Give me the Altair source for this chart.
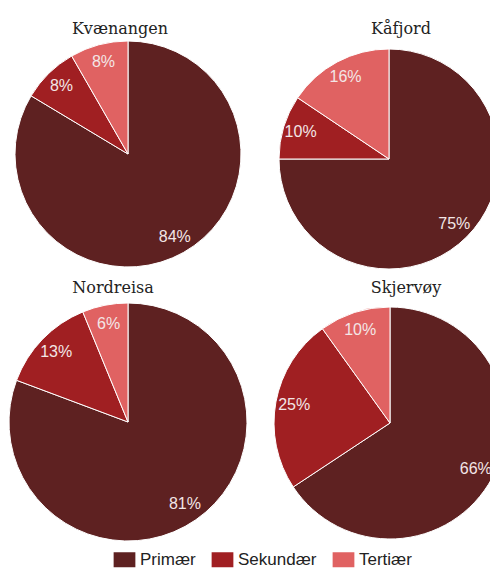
import altair as alt
import pandas as pd

municipalities = ["Kvænangen", "Kåfjord", "Nordreisa", "Skjervøy"]
sectors = ["Primær", "Sekundær", "Tertiær"]
values_kvaenangen = [83.6, 8.1, 8.3]
values_kafjord = [75.0, 9.4, 15.6]
values_nordreisa = [80.7, 13.1, 6.2]
values_skjervoy = [65.7, 24.4, 9.9]
labels_kvaenangen = ["84%", "8%", "8%"]
labels_kafjord = ["75%", "10%", "16%"]
labels_nordreisa = ["81%", "13%", "6%"]
labels_skjervoy = ["66%", "25%", "10%"]
colors = ["#5E2121", "#A01F22", "#E06262"]

all_values = [values_kvaenangen, values_kafjord, values_nordreisa, values_skjervoy]
all_labels = [labels_kvaenangen, labels_kafjord, labels_nordreisa, labels_skjervoy]

rows = []
for m, vals, labs in zip(municipalities, all_values, all_labels):
    for i, (s, v, l) in enumerate(zip(sectors, vals, labs)):
        rows.append({"kommune": m, "sektor": s, "idx": i, "verdi": v, "etikett": l})
df = pd.DataFrame(rows)

color_scale = alt.Scale(domain=sectors, range=colors)
legend = alt.Legend(
    title=None, orient="none", direction="horizontal", legendX=108, legendY=512,
    symbolType="M-1.45,-1L1.45,-1L1.45,1L-1.45,1Z", symbolSize=225,
    symbolStrokeWidth=0, labelFontSize=17, labelFont="Liberation Sans",
    labelColor="#222", labelOffset=7, columnPadding=15,
)


def panel(name, radius, w, h, dx):
    base = alt.Chart(df).transform_filter(alt.datum.kommune == name).encode(
        theta=alt.Theta("verdi:Q", stack=True),
        order=alt.Order("idx:Q"),
    )
    arcs = base.mark_arc(outerRadius=radius, stroke="white", strokeWidth=1).encode(
        color=alt.Color("sektor:N", scale=color_scale, legend=legend, sort=sectors)
    )
    text = base.mark_text(
        radius=radius * 0.84, fontSize=16, font="Liberation Sans", color="#F3E6E6"
    ).encode(text="etikett:N")
    return alt.layer(arcs, text).properties(
        width=w, height=h, title=alt.TitleParams(name, dx=dx)
    )


p1 = panel("Kvænangen", 113, 240, 230, -8)
p2 = panel("Kåfjord", 110, 240, 240, 12)
p3 = panel("Nordreisa", 119, 240, 248, -15)
p4 = panel("Skjervøy", 116, 240, 250, 16)

chart = (
    alt.vconcat(
        alt.hconcat(p1, p2, spacing=21),
        alt.hconcat(p3, p4, spacing=21),
        spacing=1,
    )
    .resolve_scale(color="shared")
    .properties(
        padding={"left": 0, "top": 31, "right": 482, "bottom": 530},
        autosize=alt.AutoSizeParams(type="none"),
    )
    .configure_view(stroke=None)
    .configure_title(font="DejaVu Serif", fontSize=16, fontWeight="normal",
                     color="#222", offset=2, anchor="middle")
)

chart.save("out.html", embed_options={"renderer": "svg", "actions": False})
